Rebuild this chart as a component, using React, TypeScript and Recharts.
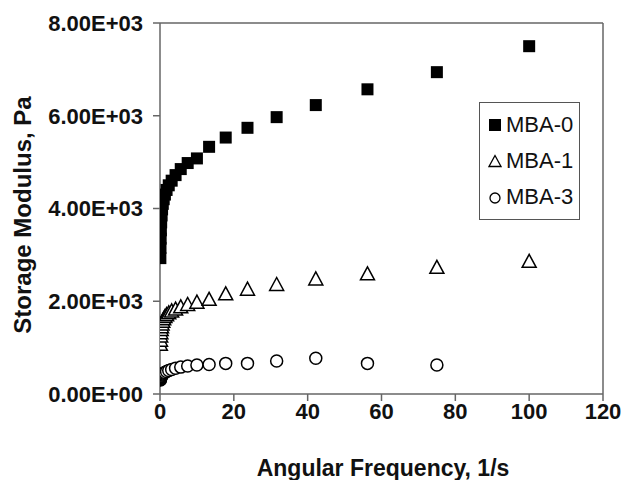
import React from 'react';
import {
  ScatterChart,
  Scatter,
  XAxis,
  YAxis,
  Legend,
  ReferenceLine,
  Label
} from 'recharts';

// angular frequency sweep, 1/s
const freq = [0.1, 0.133, 0.178, 0.237, 0.316, 0.422, 0.562, 0.75, 1, 1.33, 1.78, 2.37, 3.16, 4.22, 5.62, 7.5, 10, 13.3, 17.8, 23.7, 31.6, 42.2, 56.2, 75, 100];

// storage modulus, Pa
const mba0 = [2930, 3150, 3350, 3530, 3700, 3850, 3980, 4100, 4200, 4300, 4400, 4500, 4600, 4720, 4850, 4980, 5080, 5330, 5530, 5740, 5970, 6230, 6570, 6940, 7500];
const mba1 = [1060, 1150, 1240, 1310, 1380, 1440, 1500, 1560, 1610, 1660, 1700, 1740, 1780, 1820, 1870, 1920, 1970, 2030, 2150, 2250, 2350, 2470, 2580, 2720, 2850];
const mba3 = [300, 315, 335, 350, 370, 390, 410, 430, 450, 465, 485, 505, 530, 555, 580, 605, 625, 635, 660, 660, 710, 770, 660, 625, null];

const seriesNames = ['MBA-0', 'MBA-1', 'MBA-3'];

const xTicks = [0, 20, 40, 60, 80, 100, 120];
const yTicks = [0, 2000, 4000, 6000, 8000];
const yTickLabels = ['0.00E+00', '2.00E+03', '4.00E+03', '6.00E+03', '8.00E+03'];

const toPoints = (vals: (number | null)[]) =>
  freq
    .map((f, i) => ({ x: f, y: vals[i] }))
    .filter((p) => p.y !== null);

const FONT = '"Liberation Sans", Arial, sans-serif';
const AXIS = '#666';

const Square = (props: any) => {
  const { cx, cy } = props;
  return <rect x={cx - 6} y={cy - 6} width={12} height={12} fill="#000" />;
};

const Triangle = (props: any) => {
  const { cx, cy } = props;
  return (
    <polygon
      points={`${cx},${cy - 7.5} ${cx - 7},${cy + 5.5} ${cx + 7},${cy + 5.5}`}
      fill="#fff"
      stroke="#000"
      strokeWidth={1.5}
    />
  );
};

const Circle = (props: any) => {
  const { cx, cy } = props;
  return <circle cx={cx} cy={cy} r={6} fill="#fff" stroke="#000" strokeWidth={1.5} />;
};

const legendIcons = [
  <rect x={1} y={1} width={12} height={12} fill="#000" />,
  <polygon points="7,1.5 1,12.5 13,12.5" fill="#fff" stroke="#000" strokeWidth={1.3} />,
  <circle cx={7} cy={8} r={5} fill="#fff" stroke="#000" strokeWidth={1.3} />
];

const LegendBox = () => (
  <div
    style={{
      border: '1.5px solid #555',
      background: '#fff',
      padding: '4px 6px 4px 8px',
      fontFamily: FONT,
      fontSize: 22,
      color: '#111'
    }}
  >
    {seriesNames.map((name, i) => (
      <div key={name} style={{ display: 'flex', alignItems: 'center', height: 36 }}>
        <svg width={14} height={14} style={{ marginRight: 4 }}>
          {legendIcons[i]}
        </svg>
        <span>{name}</span>
      </div>
    ))}
  </div>
);

const titleStyle = { fontFamily: FONT, fontWeight: 'bold', fill: '#111' };

const YTitle = () => (
  <text
    x={22}
    y={215}
    transform="rotate(-90 22 215)"
    textAnchor="middle"
    dominantBaseline="central"
    style={{ ...titleStyle, fontSize: 24 }}
  >
    Storage Modulus, Pa
  </text>
);

const XTitle = () => (
  <text x={383} y={476} textAnchor="middle" style={{ ...titleStyle, fontSize: 23 }}>
    Angular Frequency, 1/s
  </text>
);

export default function App() {
  const tickStyle = { fontFamily: FONT, fontWeight: 'bold', fontSize: 22, fill: '#111' };
  return (
    <div style={{ position: 'absolute', left: 0, top: 0, width: 624, height: 480 }}>
      <ScatterChart width={624} height={480} margin={{ top: 23, right: 21, left: 0, bottom: 0 }}>
        <XAxis
          type="number"
          dataKey="x"
          domain={[0, 120]}
          ticks={xTicks}
          height={86}
          tickSize={7}
          tickMargin={2}
          stroke={AXIS}
          strokeWidth={1.5}
          tick={tickStyle}
          allowDataOverflow
        >
          <Label content={<XTitle />} />
        </XAxis>
        <YAxis
          type="number"
          dataKey="y"
          domain={[0, 8000]}
          ticks={yTicks}
          width={160}
          tickSize={7}
          tickMargin={10}
          stroke={AXIS}
          strokeWidth={1.5}
          tick={tickStyle}
          tickFormatter={(v: number, i: number) => yTickLabels[i]}
          allowDataOverflow
        >
          <Label content={<YTitle />} />
        </YAxis>
        <ReferenceLine y={8000} stroke={AXIS} strokeWidth={1.5} />
        <ReferenceLine x={120} stroke={AXIS} strokeWidth={1.5} />
        <Legend
          layout="vertical"
          align="center"
          verticalAlign="middle"
          wrapperStyle={{ left: 479, top: 102, width: 'auto' }}
          content={<LegendBox />}
        />
        <Scatter name="MBA-0" data={toPoints(mba0)} shape={<Square />} isAnimationActive={false} />
        <Scatter name="MBA-1" data={toPoints(mba1)} shape={<Triangle />} isAnimationActive={false} />
        <Scatter name="MBA-3" data={toPoints(mba3)} shape={<Circle />} isAnimationActive={false} />
      </ScatterChart>
    </div>
  );
}
